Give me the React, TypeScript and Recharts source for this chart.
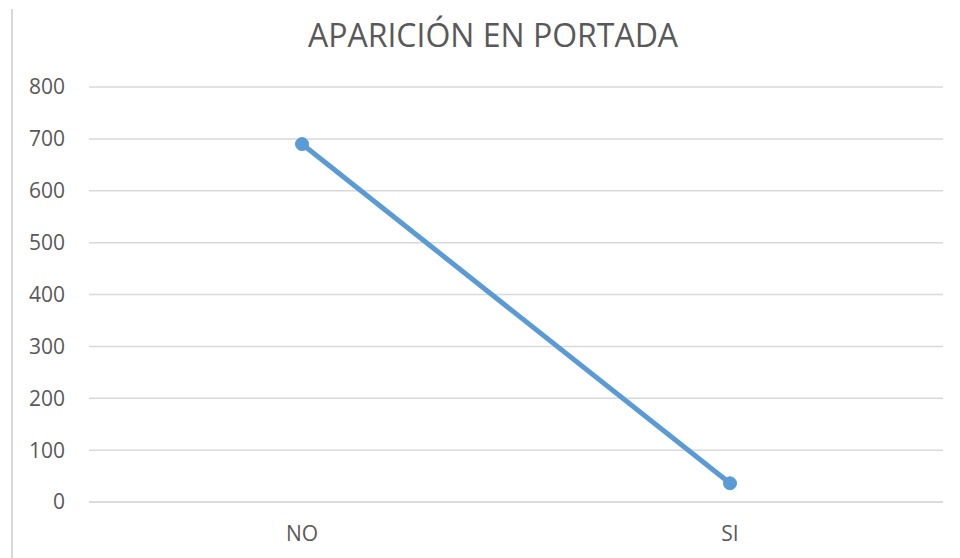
import { LineChart, Line, XAxis, YAxis, CartesianGrid } from "recharts"

const categories = ["NO", "SI"]
const counts = [690, 36]
const yTicks = [0, 100, 200, 300, 400, 500, 600, 700, 800]

const data = categories.map((name, i) => ({ name, value: counts[i] }))

const textColor = "#595959"
const gridColor = "#d9d9d9"
const font = "'Open Sans', 'Noto Sans', sans-serif"

export default function App() {
  return (
    <div style={{ position: "absolute", left: 0, top: 0, width: 960, height: 558, background: "#fff", fontFamily: font }}>
      <div style={{ position: "absolute", left: 11, top: 9, width: 2, height: 549, background: gridColor }} />
      <div
        style={{
          position: "absolute",
          left: 193,
          width: 600,
          top: 13,
          textAlign: "center",
          fontSize: 32,
          color: textColor,
          lineHeight: "normal",
        }}
      >
        APARICIÓN EN PORTADA
      </div>
      <LineChart width={960} height={558} data={data} margin={{ top: 87, right: 17, bottom: 26, left: 0 }}>
        <CartesianGrid vertical={false} stroke={gridColor} strokeWidth={1.5} />
        <XAxis
          dataKey="name"
          height={30}
          fontSize={21}
          axisLine={{ stroke: gridColor, strokeWidth: 1.5 }}
          tickLine={false}
          tickSize={0}
          tickMargin={24}
          padding={{ left: 213, right: 213 }}
          tick={{ fill: textColor, fontSize: 21 }}
        />
        <YAxis
          width={89}
          fontSize={21}
          domain={[0, 800]}
          ticks={yTicks}
          axisLine={false}
          tickLine={false}
          tickSize={0}
          tickMargin={24}
          tick={{ fill: textColor, fontSize: 21 }}
        />
        <Line
          type="linear"
          dataKey="value"
          stroke="#5b9bd5"
          strokeWidth={5}
          dot={{ r: 6.5, fill: "#5b9bd5", stroke: "#5b9bd5", strokeWidth: 1 }}
          isAnimationActive={false}
        />
      </LineChart>
    </div>
  )
}
